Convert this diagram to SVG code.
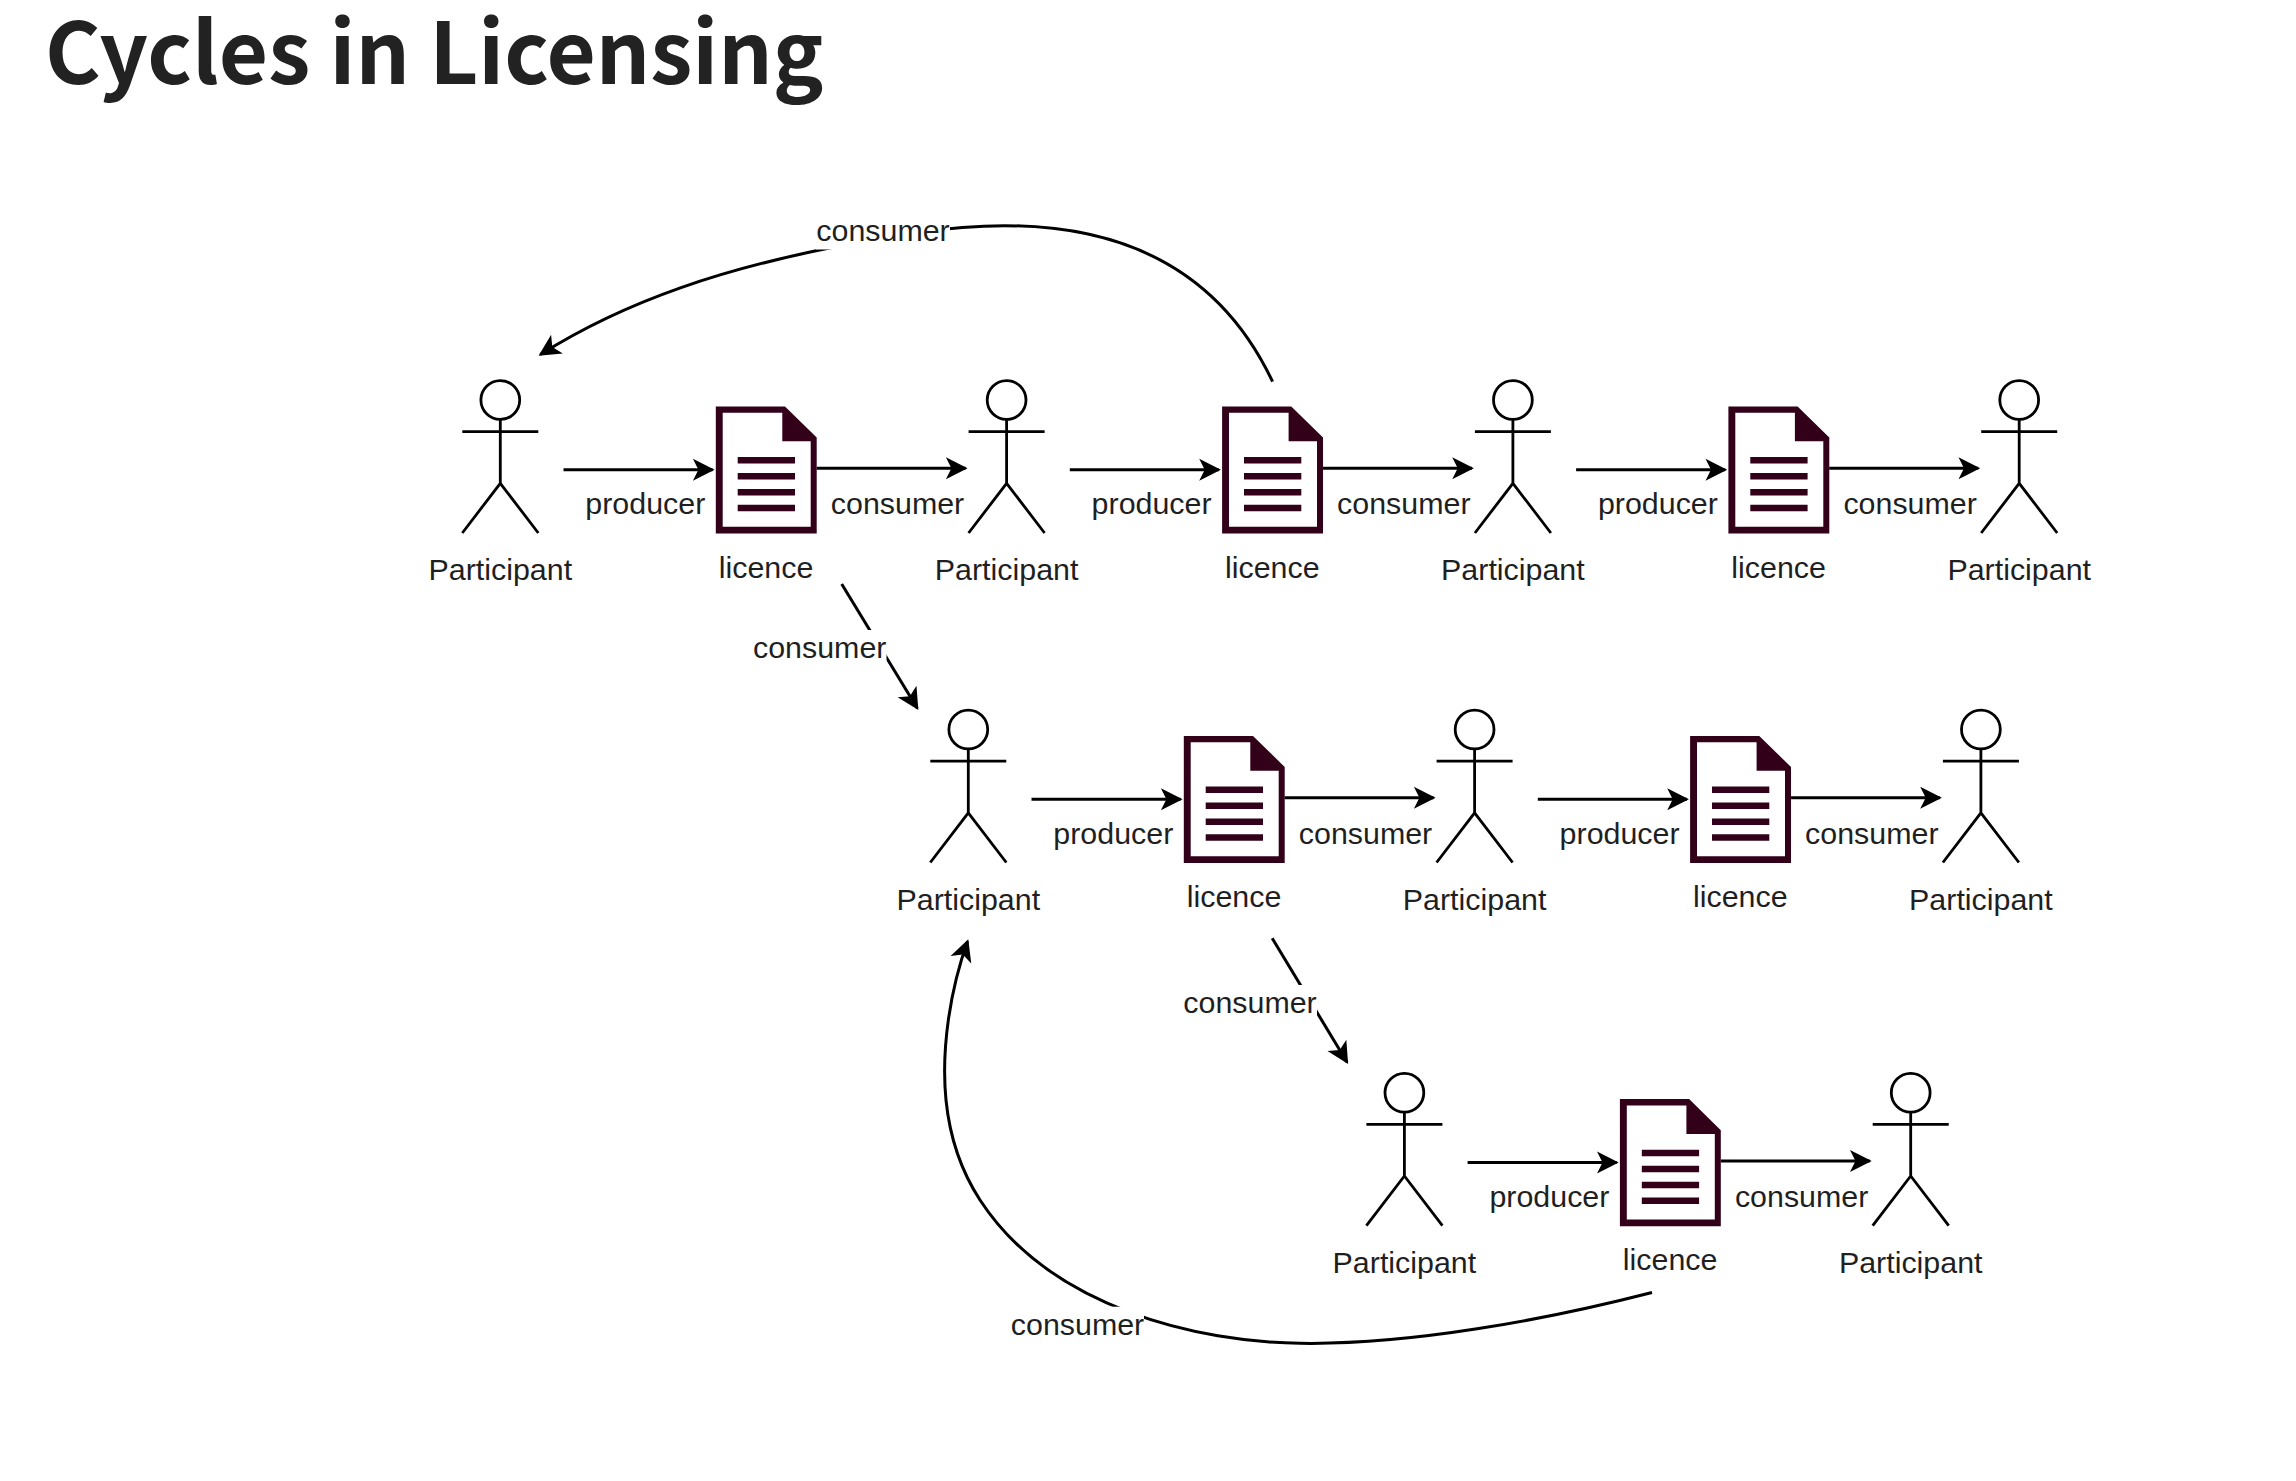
<svg xmlns="http://www.w3.org/2000/svg" xmlns:xlink="http://www.w3.org/1999/xlink" width="2296" height="1481" viewBox="0 0 2296 1481">
<style>
text{font-family:"Liberation Sans",Arial,sans-serif;font-size:30.4px;fill:#1f1f1f;text-anchor:middle}
.title{font-family:"Noto Sans CJK SC","Noto Sans",sans-serif;font-size:85px;font-weight:700;fill:#222;text-anchor:start}
.c{fill:none;stroke:#000;stroke-width:3;marker-end:url(#arr)}
.s{fill:none;stroke:#000;stroke-width:2.8}
.head{fill:#fff;stroke:#000;stroke-width:2.8}
.doc{fill:#33001a;fill-rule:evenodd}
</style>
<defs>
<marker id="arr" markerUnits="userSpaceOnUse" markerWidth="24" markerHeight="24" refX="19.7" refY="11" orient="auto" overflow="visible">
<path d="M0 0L21.7 11L0 22L5.5 11Z" fill="#000"/>
</marker>
<g id="actor">
<circle class="head" cx="500.3" cy="400" r="19.4"/>
<path class="s" d="M500.3 419.4V483.3M462.3 431.7H538.3M462.3 533L500.3 483.3L538.3 533"/>
</g>
<g id="licence">
<path class="doc" d="M715.8 406.4H785L816.7 437.5V533.5H715.8ZM722.7 412.7V526.7H810.7V441.3H782.3V412.7Z"/>
<path class="doc" d="M737.7 457H795V463.6H737.7ZM737.7 473H795V479.6H737.7ZM737.7 489H795V495.6H737.7ZM737.7 504.7H795V511.3H737.7Z"/>
</g>
</defs>
<rect width="2296" height="1481" fill="#fff"/>
<text class="title" x="45" y="84">Cycles in Licensing</text>

<g id="connectors">
<g id="e-r1a" transform="translate(0 0)"><path class="c" d="M563.5 469.7H712.6"/><text x="645.3" y="514.2">producer</text><path class="c" d="M816.6 468.3H965.6"/><text x="897.5" y="514.2">consumer</text></g>
<g id="e-r1b" transform="translate(506.3 0)"><path class="c" d="M563.5 469.7H712.6"/><text x="645.3" y="514.2">producer</text><path class="c" d="M816.6 468.3H965.6"/><text x="897.5" y="514.2">consumer</text></g>
<g id="e-r1c" transform="translate(1012.6 0)"><path class="c" d="M563.5 469.7H712.6"/><text x="645.3" y="514.2">producer</text><path class="c" d="M816.6 468.3H965.6"/><text x="897.5" y="514.2">consumer</text></g>
<g id="e-r2a" transform="translate(468 329.5)"><path class="c" d="M563.5 469.7H712.6"/><text x="645.3" y="514.2">producer</text><path class="c" d="M816.6 468.3H965.6"/><text x="897.5" y="514.2">consumer</text></g>
<g id="e-r2b" transform="translate(974.3 329.5)"><path class="c" d="M563.5 469.7H712.6"/><text x="645.3" y="514.2">producer</text><path class="c" d="M816.6 468.3H965.6"/><text x="897.5" y="514.2">consumer</text></g>
<g id="e-r3a" transform="translate(904.1 692.7)"><path class="c" d="M563.5 469.7H712.6"/><text x="645.3" y="514.2">producer</text><path class="c" d="M816.6 468.3H965.6"/><text x="897.5" y="514.2">consumer</text></g>

<g id="e-cycle-top">
<path class="c" d="M1272.6 381.7C1215 260 1110 225.7 1004.5 225.7C945 225.7 885 237 828.3 248.3C730 268 630 298 540.3 354.6"/>
<rect x="816" y="214" width="134" height="35.5" fill="#fff"/>
<text x="883" y="241">consumer</text>
</g>
<g id="e-down-1">
<path class="c" d="M841.7 584L917.3 708.3"/>
<rect x="753" y="630" width="133.5" height="34" fill="#fff"/>
<text x="819.7" y="657.8">consumer</text>
</g>
<g id="e-down-2">
<path class="c" d="M1272.2 938.3L1347.1 1062.2"/>
<rect x="1183" y="985" width="134" height="34" fill="#fff"/>
<text x="1250" y="1013">consumer</text>
</g>
<g id="e-cycle-bottom">
<path class="c" d="M1652 1292.5C1545 1320 1410 1345 1300 1343.3C1200 1342 1051 1309 980 1200C961 1170.7 949.5 1135 946 1100C941 1050 950 990 967.6 941.2"/>
<rect x="1011" y="1306.7" width="133" height="35" fill="#fff"/>
<text x="1077.5" y="1334.5">consumer</text>
</g>
</g>

<g id="participant-1"><use href="#actor"/><text x="500.3" y="580">Participant</text></g>
<g id="licence-1"><use href="#licence"/><text x="766" y="577.7">licence</text></g>
<g id="participant-2" transform="translate(506.3 0)"><use href="#actor"/><text x="500.3" y="580">Participant</text></g>
<g id="licence-2" transform="translate(506.3 0)"><use href="#licence"/><text x="766" y="577.7">licence</text></g>
<g id="participant-3" transform="translate(1012.6 0)"><use href="#actor"/><text x="500.3" y="580">Participant</text></g>
<g id="licence-3" transform="translate(1012.6 0)"><use href="#licence"/><text x="766" y="577.7">licence</text></g>
<g id="participant-4" transform="translate(1518.9 0)"><use href="#actor"/><text x="500.3" y="580">Participant</text></g>

<g id="participant-5" transform="translate(468 329.5)"><use href="#actor"/><text x="500.3" y="580">Participant</text></g>
<g id="licence-4" transform="translate(468 329.5)"><use href="#licence"/><text x="766" y="577.7">licence</text></g>
<g id="participant-6" transform="translate(974.3 329.5)"><use href="#actor"/><text x="500.3" y="580">Participant</text></g>
<g id="licence-5" transform="translate(974.3 329.5)"><use href="#licence"/><text x="766" y="577.7">licence</text></g>
<g id="participant-7" transform="translate(1480.6 329.5)"><use href="#actor"/><text x="500.3" y="580">Participant</text></g>

<g id="participant-8" transform="translate(904.1 692.7)"><use href="#actor"/><text x="500.3" y="580">Participant</text></g>
<g id="licence-6" transform="translate(904.1 692.7)"><use href="#licence"/><text x="766" y="577.7">licence</text></g>
<g id="participant-9" transform="translate(1410.4 692.7)"><use href="#actor"/><text x="500.3" y="580">Participant</text></g>
</svg>
